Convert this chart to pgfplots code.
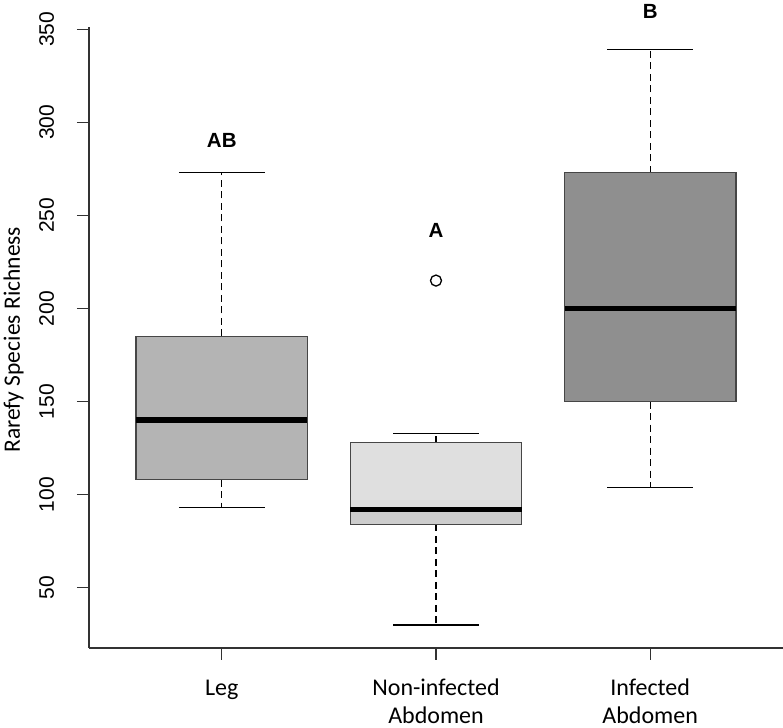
\documentclass[border=0pt]{standalone}
\usepackage{fontspec}
\setmainfont{Liberation Sans}
\newfontfamily\carlito{Carlito}
\usepackage{pgfplots}
\pgfplotsset{compat=1.18}
\definecolor{legfill}{RGB}{180,180,180}
\definecolor{nonfill}{RGB}{223,223,223}
\definecolor{nonlow}{RGB}{205,205,205}
\definecolor{inffill}{RGB}{143,143,143}
\definecolor{boxline}{RGB}{70,70,70}
\definecolor{axline}{RGB}{50,50,50}
\begin{document}
\begin{tikzpicture}
\begin{axis}[name=ax, scale only axis, width=694pt, height=621.3pt,
  xmin=0.38, xmax=3.62, ymin=17.6, ymax=351.4,
  axis lines*=left,
  axis line style={line width=1.5pt, color=axline},
  tick align=outside, major tick length=12pt,
  tick style={line width=1.3pt, color=axline},
  xtick={1,2,3},
  xticklabels={Leg, Non-infected\\Abdomen, Infected\\Abdomen},
  xticklabel style={align=center, font=\carlito\fontsize{24}{28}\selectfont, yshift=-12pt},
  typeset ticklabels with strut,
  ytick={50,100,...,350},
  yticklabel style={rotate=90, anchor=south, inner sep=2pt, font=\fontsize{21}{23}\selectfont},
  yticklabel shift=14pt,
  /pgf/number format/assume math mode=true,
  ylabel={Rarefy Species Richness},
  ylabel style={font=\carlito\fontsize{23.5}{27}\selectfont, at={(axis description cs:-0.1088,0.496)}, anchor=center},
  clip=false,
]
% whiskers (dashed)
\addplot[black, line width=1.2pt, dash pattern=on 7pt off 4.5pt] coordinates {(1,185) (1,273)};
\addplot[black, line width=1.2pt, dash pattern=on 7pt off 4.5pt] coordinates {(1,108) (1,93)};
\addplot[black, line width=1.2pt, dash pattern=on 7pt off 4.5pt] coordinates {(2,128) (2,133)};
\addplot[black, line width=1.2pt, dash pattern=on 7pt off 4.5pt] coordinates {(2,84) (2,30)};
\addplot[black, line width=1.2pt, dash pattern=on 7pt off 4.5pt] coordinates {(3,273) (3,339)};
\addplot[black, line width=1.2pt, dash pattern=on 7pt off 4.5pt] coordinates {(3,150) (3,104)};
% caps
\addplot[black, line width=1.3pt] coordinates {(0.8,273) (1.2,273)};
\addplot[black, line width=1.3pt] coordinates {(0.8,93) (1.2,93)};
\addplot[black, line width=1.3pt] coordinates {(1.8,133) (2.2,133)};
\addplot[black, line width=1.3pt] coordinates {(1.8,30) (2.2,30)};
\addplot[black, line width=1.3pt] coordinates {(2.8,339) (3.2,339)};
\addplot[black, line width=1.3pt] coordinates {(2.8,104) (3.2,104)};
% boxes
\addplot[draw=boxline, line width=1.3pt, fill=legfill] coordinates {(0.6,108) (1.4,108) (1.4,185) (0.6,185)} -- cycle;
\addplot[draw=none, fill=nonfill] coordinates {(1.6,92) (2.4,92) (2.4,128) (1.6,128)} -- cycle;
\addplot[draw=none, fill=nonlow] coordinates {(1.6,84) (2.4,84) (2.4,92) (1.6,92)} -- cycle;
\addplot[draw=boxline, line width=1.3pt] coordinates {(1.6,84) (2.4,84) (2.4,128) (1.6,128)} -- cycle;
\addplot[draw=boxline, line width=1.3pt, fill=inffill] coordinates {(2.6,150) (3.4,150) (3.4,273) (2.6,273)} -- cycle;
% medians
\addplot[black, line width=5.5pt] coordinates {(0.6,140) (1.4,140)};
\addplot[black, line width=5.5pt] coordinates {(1.6,92) (2.4,92)};
\addplot[black, line width=5.5pt] coordinates {(2.6,200) (3.4,200)};
% outlier
\addplot[only marks, mark=o, mark size=5.5pt, mark options={line width=1.3pt, black}] coordinates {(2,215)};
% group letters
\node[font=\bfseries\fontsize{20.5}{24}\selectfont] at (axis cs:1,290.5) {AB};
\node[font=\bfseries\fontsize{20.5}{24}\selectfont] at (axis cs:2,242) {A};
\node[font=\bfseries\fontsize{20.5}{24}\selectfont] at (axis cs:3,359.8) {B};
\end{axis}
\pgfresetboundingbox
\path ([shift={(-89pt,-80pt)}]ax.south west) rectangle ([shift={(0pt,26.7pt)}]ax.north east);
\end{tikzpicture}
\end{document}
